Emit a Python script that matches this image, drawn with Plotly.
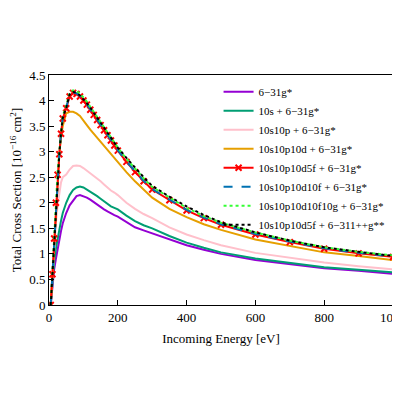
import plotly.graph_objects as go

E = [5,10,15,20,25,30,35,40,50,60,70,80,90,100,110,120,130,140,150,160,170,180,190,200,225,250,275,300,350,400,450,500,600,700,800,900,1000]
names = ["6−31g*","10s + 6−31g*","10s10p + 6−31g*","10s10p10d + 6−31g*","10s10p10d5f + 6−31g*",
         "10s10p10d10f + 6−31g*","10s10p10d10f10g + 6−31g*","10s10p10d5f + 6−311++g**"]
s_631 = [0,0.4,0.7,0.9,1.1,1.3,1.45,1.6,1.8,1.95,2.05,2.13,2.15,2.13,2.1,2.06,2.01,1.96,1.92,1.87,1.83,1.79,1.76,1.73,1.62,1.52,1.46,1.4,1.28,1.17,1.08,1.0,0.88,0.8,0.72,0.67,0.61]
s_10s = [0,0.5,0.85,1.1,1.3,1.5,1.65,1.8,2.0,2.15,2.25,2.3,2.32,2.3,2.26,2.22,2.17,2.13,2.08,2.03,1.98,1.93,1.9,1.87,1.75,1.64,1.56,1.5,1.35,1.22,1.12,1.03,0.91,0.82,0.74,0.69,0.64]
s_10p = [0,0.6,1.2,1.6,1.95,2.2,2.4,2.5,2.55,2.65,2.72,2.73,2.72,2.68,2.63,2.58,2.52,2.47,2.42,2.36,2.3,2.24,2.2,2.15,2.0,1.88,1.78,1.7,1.52,1.38,1.27,1.17,1.02,0.92,0.83,0.76,0.7]
s_10d = [0,0.6,1.3,2.0,2.55,2.95,3.3,3.5,3.75,3.78,3.78,3.75,3.7,3.6,3.52,3.43,3.35,3.27,3.2,3.12,3.03,2.95,2.88,2.8,2.6,2.42,2.25,2.1,1.88,1.72,1.58,1.47,1.28,1.15,1.03,0.96,0.88]
s_5f = [0,0.6,1.3,2.0,2.55,2.95,3.35,3.65,3.85,4.08,4.15,4.13,4.08,4.0,3.92,3.82,3.72,3.62,3.52,3.42,3.32,3.22,3.12,3.02,2.8,2.6,2.42,2.26,2.05,1.85,1.7,1.57,1.38,1.23,1.1,1.01,0.94]
s_10f = [0,0.62,1.3,2.0,2.57,2.97,3.37,3.67,3.87,4.1,4.16,4.14,4.09,4.02,3.93,3.83,3.73,3.63,3.53,3.43,3.33,3.23,3.13,3.03,2.81,2.61,2.43,2.27,2.06,1.86,1.71,1.58,1.39,1.24,1.11,1.02,0.95]
s_10g = [0,0.63,1.32,2.02,2.6,3.0,3.4,3.7,3.9,4.15,4.2,4.18,4.14,4.07,3.98,3.88,3.78,3.68,3.58,3.48,3.38,3.28,3.18,3.08,2.86,2.66,2.48,2.31,2.1,1.9,1.74,1.61,1.42,1.26,1.13,1.04,0.97]
s_311 = [0,0.6,1.28,1.98,2.56,2.96,3.36,3.66,3.86,4.12,4.17,4.15,4.1,4.03,3.95,3.86,3.77,3.67,3.57,3.47,3.37,3.27,3.17,3.08,2.88,2.68,2.5,2.33,2.12,1.93,1.76,1.62,1.42,1.26,1.13,1.04,0.96]

series = [s_631, s_10s, s_10p, s_10d, s_5f, s_10f, s_10g, s_311]
colors = ["#9400d3","#009e73","#ffc0cb","#e69f00","#ff0000","#0072b2","#33ff33","#000000"]
dashes = ["solid","solid","solid","solid","solid","dash","dot","dot"]

fig = go.Figure()
for n, s, c, d in zip(names, series, colors, dashes):
    mode = "lines+markers" if n == names[4] else "lines"
    fig.add_trace(go.Scatter(x=E, y=s, name=n, mode=mode,
                             line=dict(color=c, dash=d, width=2),
                             marker=dict(symbol="x-thin", size=6, line=dict(color=c, width=2))))

SERIF = "Liberation Serif, DejaVu Serif, serif"
ax = dict(showgrid=False, zeroline=False, mirror=True, showline=True, linecolor="black",
          linewidth=1, ticks="inside", ticklen=5, tickcolor="black", automargin=False,
          tickfont=dict(family=SERIF, size=13, color="black"))
fig.update_layout(
    width=400, height=400, plot_bgcolor="white", paper_bgcolor="white",
    margin=dict(l=41, r=15, t=67, b=103),
    font=dict(family=SERIF, size=13, color="black"),
    xaxis=dict(range=[0, 1000], dtick=200,
               title=dict(text="Incoming Energy [eV]", standoff=10, font=dict(family=SERIF, size=13)), **ax),
    yaxis=dict(range=[0, 4.5], dtick=0.5,
               title=dict(text="Total Cross Section [10<sup>−16</sup> cm<sup>2</sup>]", standoff=8,
                          font=dict(family=SERIF, size=13)), **ax),
    legend=dict(x=0.99, y=0.99, xanchor="right", yanchor="top", bgcolor="rgba(0,0,0,0)",
                font=dict(family=SERIF, size=11, color="black"), tracegroupgap=0, itemwidth=30),
)
fig.write_html("out.html")
